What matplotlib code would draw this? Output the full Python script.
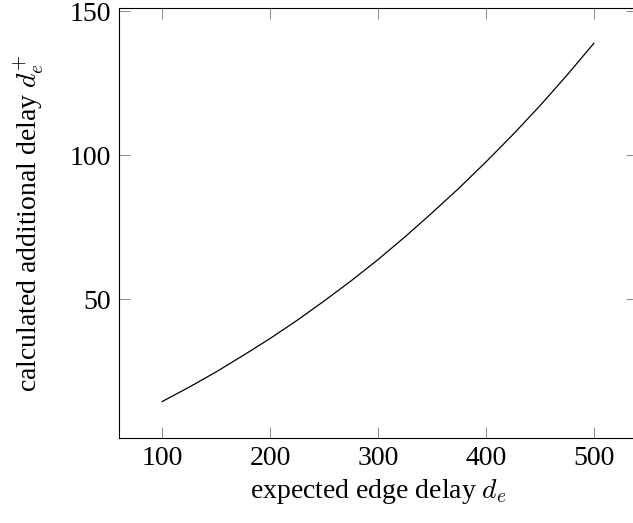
import matplotlib
matplotlib.use("Agg")
import matplotlib.pyplot as plt

# data
expected_delay = [100, 125, 150, 175, 200, 225, 250, 275, 300, 325, 350, 375, 400, 425, 450, 475, 500]
additional_delay = [14.4, 19.4, 24.7, 30.4, 36.3, 42.6, 49.3, 56.3, 63.7, 71.6, 79.9, 88.5, 97.6, 107.1, 117.1, 127.7, 138.8]
x_ticks = [100, 200, 300, 400, 500]
y_ticks = [50, 100, 150]

plt.rcParams['font.family'] = ['Liberation Serif', 'DejaVu Serif']
plt.rcParams['mathtext.fontset'] = 'cm'
plt.rcParams['axes.formatter.use_mathtext'] = False

W, H = 633, 523
fig = plt.figure(figsize=(W / 100, H / 100), dpi=100)
left, right = 119 / W, 637 / W
bottom, top = (H - 437.7) / H, (H - 7.5) / H
ax = fig.add_axes([left, bottom, right - left, top - bottom])

ax.plot(expected_delay, additional_delay, color='black', lw=0.9)

ax.set_xlim(60, 540)
ax.set_ylim(1.85, 151.25)
ax.set_xticks(x_ticks)
ax.set_yticks(y_ticks)
ax.tick_params(direction='in', length=8, width=0.6, color='#777777',
               top=True, right=True, labelsize=20, pad=6)
for s in ax.spines.values():
    s.set_linewidth(0.8)
    s.set_color('black')

ax.set_xlabel(r'expected edge delay $d_e$', fontsize=20, labelpad=4)
ax.set_ylabel(r'calculated additional delay $d_e^{+}$', fontsize=20, labelpad=17)

fig.savefig('out.png', dpi=100)
